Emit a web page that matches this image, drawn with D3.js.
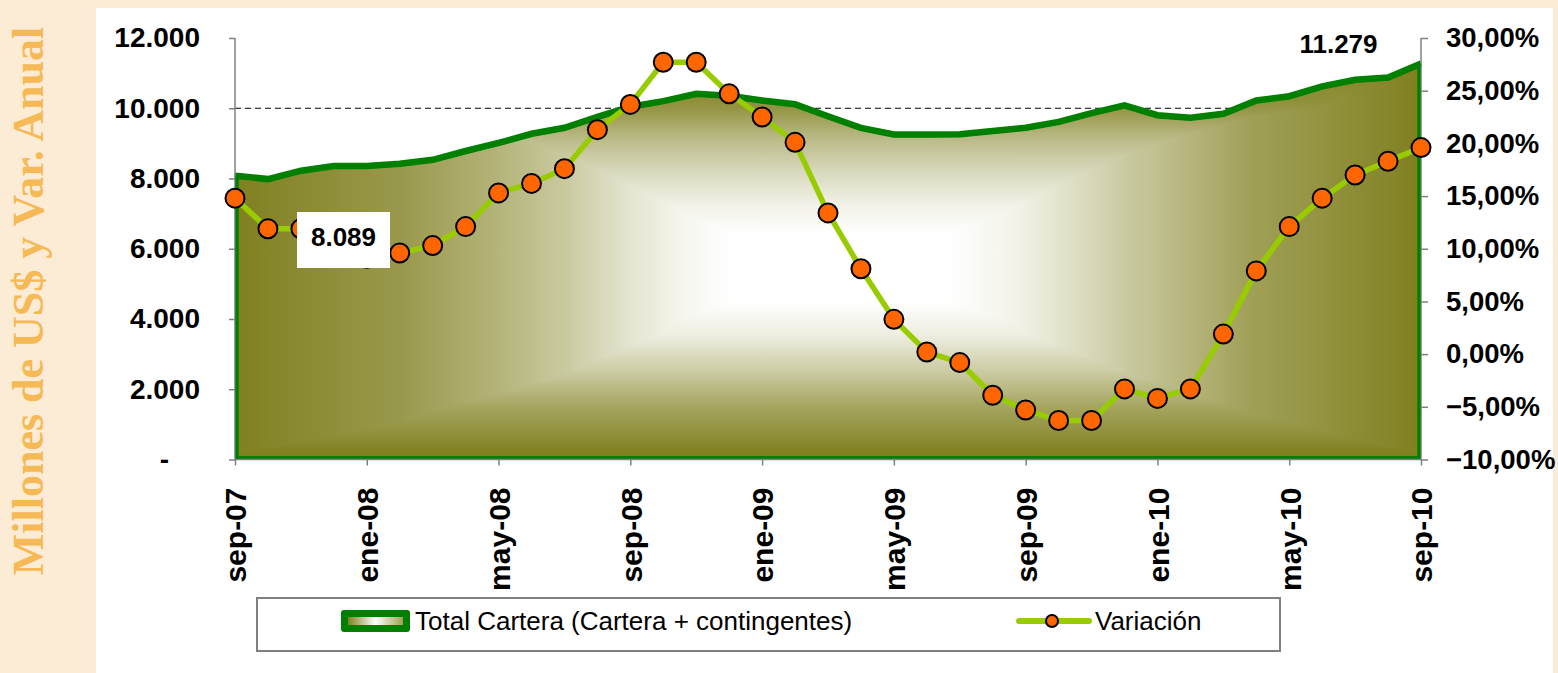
<!DOCTYPE html>
<html>
<head>
<meta charset="utf-8">
<script src="https://cdn.jsdelivr.net/npm/d3@7"></script>
<style>
  body { margin: 0; background: #fdecd5; }
  svg { display: block; }
</style>
</head>
<body>
<script>
// months of the chart (sep-07 .. sep-10)
var months = ['sep-07','oct-07','nov-07','dic-07','ene-08','feb-08','mar-08','abr-08','may-08','jun-08','jul-08','ago-08',
    'sep-08','oct-08','nov-08','dic-08','ene-09','feb-09','mar-09','abr-09','may-09','jun-09','jul-09','ago-09',
    'sep-09','oct-09','nov-09','dic-09','ene-10','feb-10','mar-10','abr-10','may-10','jun-10','jul-10','ago-10','sep-10'];

// Total Cartera (Cartera + contingentes), millones de US$
var cartera = [8089, 7990, 8230, 8360, 8360, 8430, 8540, 8790, 9020, 9280, 9450, 9760,
    10050, 10210, 10420, 10360, 10230, 10120, 9780, 9450, 9260, 9260, 9270, 9360,
    9450, 9620, 9870, 10090, 9810, 9740, 9850, 10230, 10350, 10630, 10820, 10880, 11279];

// Variación anual, %
var variacion = [14.8, 11.9, 11.9, 10.5, 9.1, 9.6, 10.3, 12.1, 15.3, 16.2, 17.6, 21.3,
    23.7, 27.7, 27.7, 24.7, 22.5, 20.1, 13.4, 8.1, 3.3, 0.2, -0.8, -3.9,
    -5.3, -6.3, -6.3, -3.3, -4.2, -3.3, 1.9, 7.9, 12.1, 14.8, 17.0, 18.3, 19.6];

var xTicks = ['sep-07','ene-08','may-08','sep-08','ene-09','may-09','sep-09','ene-10','may-10','sep-10'];
var leftTicks = [0, 2000, 4000, 6000, 8000, 10000, 12000];
var rightTicks = [-10, -5, 0, 5, 10, 15, 20, 25, 30];
var gridValue = 10000;
var labelFirst = '8.089';
var labelLast = '11.279';
var legendNames = ['Total Cartera (Cartera + contingentes)', 'Variación'];
var titleText = 'Millones de US$ y Var. Anual';

var es = d3.formatLocale({decimal: ',', thousands: '.', grouping: [3], currency: ['$', '']});
var fmtLeft = es.format(',.0f');
var fmtRight = function (d) { return es.format('.2f')(d) + '%'; };

var svg = d3.select('body').append('svg')
    .attr('width', 1558)
    .attr('height', 673);

var olive = '#808020';
var fade = d3.interpolateRgb('#ffffff', olive);

// backgrounds
svg.append('rect').attr('width', 1558).attr('height', 673).attr('fill', '#fdecd5');
svg.append('rect').attr('x', 96).attr('y', 8).attr('width', 1457).attr('height', 665).attr('fill', '#ffffff');

// side title
svg.append('text')
    .attr('transform', 'translate(43,301)rotate(-90)')
    .attr('text-anchor', 'middle')
    .style('font-family', '"Liberation Serif", "Times New Roman", serif')
    .style('font-weight', 'bold')
    .style('font-size', '44px')
    .style('fill', '#f5b955')
    .text(titleText);

// scales
var pLeft = 235, pRight = 1421, pTop = 38, pBottom = 459.5;
var x = d3.scalePoint().domain(months).range([pLeft, pRight]);
var yL = d3.scaleLinear().domain([0, 12000]).range([pBottom, pTop]);
var yR = d3.scaleLinear().domain([-10, 30]).range([pBottom, pTop]);

// gradients (rectangular "from center" look = horizontal darken vertical)
var defs = svg.append('defs');
var areaTop = yL(d3.max(cartera));

var hStops = [[0, 1], [0.14, 0.8], [0.22, 0.6], [0.28, 0.42], [0.33, 0.22], [0.38, 0.07], [0.42, 0],
    [0.6, 0], [0.65, 0.08], [0.69, 0.2], [0.755, 0.43], [0.81, 0.6], [0.856, 0.75], [1, 1]];
var vStops = [[0, 1], [0.11, 0.85], [0.19, 0.54], [0.28, 0.28], [0.36, 0.1], [0.43, 0],
    [0.6, 0], [0.69, 0.15], [0.78, 0.42], [0.87, 0.72], [0.985, 1], [1, 1]];

var hg = defs.append('linearGradient').attr('id', 'hgrad')
    .attr('gradientUnits', 'userSpaceOnUse')
    .attr('x1', pLeft).attr('x2', pRight).attr('y1', 0).attr('y2', 0);
hg.selectAll('stop').data(hStops).enter().append('stop')
    .attr('offset', function (d) { return d[0]; })
    .attr('stop-color', function (d) { return fade(d[1]); });

var vg = defs.append('linearGradient').attr('id', 'vgrad')
    .attr('gradientUnits', 'userSpaceOnUse')
    .attr('x1', 0).attr('x2', 0).attr('y1', areaTop).attr('y2', pBottom);
vg.selectAll('stop').data(vStops).enter().append('stop')
    .attr('offset', function (d) { return d[0]; })
    .attr('stop-color', function (d) { return fade(d[1]); });

var lg = defs.append('linearGradient').attr('id', 'lgrad');
lg.selectAll('stop').data([[0, 1], [0.5, 0], [1, 0.75]]).enter().append('stop')
    .attr('offset', function (d) { return d[0]; })
    .attr('stop-color', function (d) { return fade(d[1]); });

var area = d3.area()
    .x(function (d, i) { return x(months[i]); })
    .y0(yL(0))
    .y1(function (d) { return yL(d); });

defs.append('clipPath').attr('id', 'areaClip')
    .append('path').attr('d', area(cartera));

// dashed gridline at 10.000 (behind the area)
svg.append('line')
    .attr('x1', pLeft).attr('x2', pRight)
    .attr('y1', yL(gridValue)).attr('y2', yL(gridValue))
    .attr('stroke', '#000')
    .attr('stroke-width', 1)
    .attr('stroke-dasharray', '6,4');

// area fill
var fill = svg.append('g').attr('clip-path', 'url(#areaClip)').style('isolation', 'isolate');
fill.append('rect')
    .attr('x', pLeft).attr('y', areaTop - 5)
    .attr('width', pRight - pLeft).attr('height', pBottom - areaTop + 5)
    .attr('fill', 'url(#hgrad)');
fill.append('rect')
    .attr('x', pLeft).attr('y', areaTop - 5)
    .attr('width', pRight - pLeft).attr('height', pBottom - areaTop + 5)
    .attr('fill', 'url(#vgrad)')
    .style('mix-blend-mode', 'darken');
// inner green border
fill.append('path')
    .attr('d', area(cartera))
    .attr('fill', 'none')
    .attr('stroke', '#008000')
    .attr('stroke-width', 7);

// top line of the area
svg.append('path')
    .datum(cartera)
    .attr('d', d3.line()
        .x(function (d, i) { return x(months[i]); })
        .y(function (d) { return yL(d); }))
    .attr('fill', 'none')
    .attr('stroke', '#008000')
    .attr('stroke-width', 6);

// axes
var axisFont = function (g) {
    g.selectAll('text')
        .style('font-family', '"Liberation Sans", Arial, sans-serif')
        .style('font-weight', 'bold')
        .style('font-size', '28px')
        .style('fill', '#000');
    g.selectAll('path, line').attr('stroke', '#808080').attr('stroke-width', 1.5);
};

var gL = svg.append('g')
    .attr('transform', 'translate(' + pLeft + ',0)')
    .call(d3.axisLeft(yL).tickValues(leftTicks).tickSizeOuter(0).tickSize(6).tickPadding(29)
        .tickFormat(function (d) { return d === 0 ? '-' : fmtLeft(d); }))
    .call(axisFont);
gL.select('.domain').remove();
gL.selectAll('text').filter(function (d) { return d === 0; }).attr('x', -66);

var gR = svg.append('g')
    .attr('transform', 'translate(' + pRight + ',0)')
    .call(d3.axisRight(yR).tickValues(rightTicks).tickSizeOuter(0).tickSize(7).tickPadding(18)
        .tickFormat(fmtRight))
    .call(axisFont);
gR.select('.domain').remove();
gR.selectAll('text').style('font-size', '27.5px');

var gB = svg.append('g')
    .attr('transform', 'translate(0,' + pBottom + ')')
    .call(d3.axisBottom(x).tickValues(xTicks).tickSizeOuter(0).tickSize(6))
    .call(axisFont);
gB.select('.domain').remove();
gB.selectAll('text')
    .style('font-size', '30px')
    .attr('transform', 'rotate(-90)')
    .attr('x', -28)
    .attr('y', 0)
    .attr('dy', '0.36em')
    .style('text-anchor', 'end');

// axis lines
svg.append('line').attr('x1', pLeft).attr('x2', pLeft).attr('y1', pTop).attr('y2', pBottom)
    .attr('stroke', '#808080').attr('stroke-width', 1.5);
svg.append('line').attr('x1', pRight).attr('x2', pRight).attr('y1', pTop).attr('y2', pBottom)
    .attr('stroke', '#808080').attr('stroke-width', 1.5);
svg.append('line').attr('x1', pLeft).attr('x2', pRight).attr('y1', pBottom).attr('y2', pBottom)
    .attr('stroke', '#808080').attr('stroke-width', 1.5);
// green edges of the area at both ends
svg.append('line').attr('x1', pLeft + 2).attr('x2', pLeft + 2).attr('y1', yL(cartera[0])).attr('y2', pBottom - 1)
    .attr('stroke', '#008000').attr('stroke-width', 3);
svg.append('line').attr('x1', pRight - 2).attr('x2', pRight - 2).attr('y1', yL(cartera[cartera.length - 1])).attr('y2', pBottom - 1)
    .attr('stroke', '#008000').attr('stroke-width', 3);

// Variación line and markers
svg.append('path')
    .datum(variacion)
    .attr('d', d3.line()
        .x(function (d, i) { return x(months[i]); })
        .y(function (d) { return yR(d); }))
    .attr('fill', 'none')
    .attr('stroke', '#99cc00')
    .attr('stroke-width', 5.5)
    .attr('stroke-linejoin', 'round');

svg.append('g')
    .selectAll('circle')
    .data(variacion)
    .enter()
    .append('circle')
    .attr('cx', function (d, i) { return x(months[i]); })
    .attr('cy', function (d) { return yR(d); })
    .attr('r', 9.5)
    .attr('fill', '#ff6600')
    .attr('stroke', '#000')
    .attr('stroke-width', 2);

// data labels
svg.append('rect').attr('x', 297).attr('y', 212).attr('width', 93).attr('height', 56).attr('fill', '#fff');
svg.append('text')
    .attr('x', 343.5).attr('y', 246)
    .attr('text-anchor', 'middle')
    .style('font-family', '"Liberation Sans", Arial, sans-serif')
    .style('font-weight', 'bold')
    .style('font-size', '26px')
    .text(labelFirst);
svg.append('text')
    .attr('x', 1338.5).attr('y', 53)
    .attr('text-anchor', 'middle')
    .style('font-family', '"Liberation Sans", Arial, sans-serif')
    .style('font-weight', 'bold')
    .style('font-size', '26px')
    .text(labelLast);

// legend
var leg = svg.append('g');
leg.append('rect')
    .attr('x', 257).attr('y', 598).attr('width', 1023).attr('height', 53)
    .attr('fill', '#fff')
    .attr('stroke', '#808080')
    .attr('stroke-width', 2);
leg.append('rect')
    .attr('x', 341).attr('y', 610).attr('width', 69).attr('height', 22).attr('rx', 3)
    .attr('fill', '#008000');
leg.append('rect')
    .attr('x', 348).attr('y', 617).attr('width', 55).attr('height', 8)
    .attr('fill', 'url(#lgrad)');
leg.append('line')
    .attr('x1', 1019).attr('x2', 1089).attr('y1', 621).attr('y2', 621)
    .attr('stroke', '#99cc00').attr('stroke-width', 6).attr('stroke-linecap', 'round');
leg.append('circle')
    .attr('cx', 1052).attr('cy', 621).attr('r', 6)
    .attr('fill', '#ff6600').attr('stroke', '#000').attr('stroke-width', 2);
leg.selectAll('text.name')
    .data(legendNames)
    .enter()
    .append('text')
    .attr('class', 'name')
    .attr('x', function (d, i) { return i === 0 ? 415 : 1095; })
    .attr('y', 630)
    .style('font-family', '"Liberation Sans", Arial, sans-serif')
    .style('font-size', '26px')
    .text(function (d) { return d; });
</script>
</body>
</html>
